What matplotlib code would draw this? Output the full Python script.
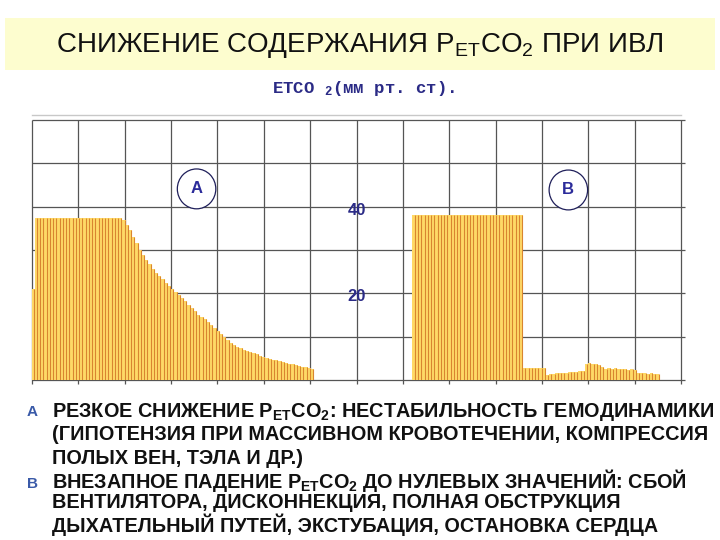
import matplotlib
matplotlib.use("Agg")
import matplotlib.pyplot as plt
from matplotlib.patches import Ellipse, Rectangle
import numpy as np

# ---------------- data ----------------
# segment A: gradual decline of ETCO2 (mm Hg), one value per breath
a_values = [21.0] + [37.3] * 27 + [
    37.0, 35.8, 34.5, 33.0, 31.5, 30.0, 28.8, 27.8, 26.8, 25.6,
    24.8, 24.0, 23.2, 22.4, 21.7, 21.0, 20.3, 19.7, 19.0, 18.2,
    17.4, 16.6, 15.9, 15.1, 14.6, 14.0, 13.3, 12.6, 12.0, 11.3,
    10.6, 9.9, 9.2, 8.6, 8.0, 7.6, 7.3, 7.0, 6.7, 6.4,
    6.2, 5.9, 5.6, 5.3, 5.1, 4.9, 4.7, 4.5, 4.3, 4.2,
    4.0, 3.8, 3.6, 3.4, 3.2, 3.1, 2.9, 2.8, 2.6]
# segment B: sudden drop to near zero
b_plateau = [38.0] * 34
b_tail = [2.8, 2.8, 2.7, 2.8, 2.7, 2.8, 2.7,
          1.2, 1.3, 1.4, 1.5, 1.5, 1.6, 1.7, 1.8, 1.8, 1.9, 2.0, 2.1,
          3.6, 4.0, 3.8, 3.7, 3.5,
          2.9, 2.6, 2.8, 2.5, 2.7, 2.6, 2.5, 2.6, 2.4, 2.5, 2.3,
          1.6, 1.5, 1.6, 1.4, 1.5, 1.4, 1.3]
b_values = b_plateau + b_tail

y_tick_labels = ["20", "40"]
y_tick_values = [20, 40]

# ---------------- layout ----------------
W, H = 720, 540
fig = plt.figure(figsize=(7.2, 5.4), dpi=100)
fig.patch.set_facecolor("white")

def fx(px):
    return px / W

def fy(py):
    return 1 - py / H

# title band
fig.patches.append(Rectangle((fx(5), fy(70)), fx(710), 52 / H, transform=fig.transFigure,
                             facecolor="#FDFDCF", edgecolor="none", zorder=0))

SANS = ["Liberation Sans", "DejaVu Sans"]
fig.text(fx(360), fy(45), r"СНИЖЕНИЕ СОДЕРЖАНИЯ P$\mathregular{_{ET}}$CO$\mathregular{_2}$ ПРИ ИВЛ",
         ha="center", va="center", fontsize=20, family=SANS, color="#111111")
fig.text(fx(364), fy(88), r"ETCO $\mathregular{_2}$(мм рт. ст).",
         ha="center", va="center", fontsize=12.5, family=["Liberation Mono", "DejaVu Sans Mono"],
         fontweight="bold", color="#2B2B86")

ax = fig.add_axes([fx(32), fy(380), fx(681 - 32), 265 / H])
ax.set_xlim(0, 14)
ax.set_ylim(0, 61.15)
for s in ax.spines.values():
    s.set_visible(False)
ax.set_xticks([])
ax.set_yticks([])
ax.patch.set_alpha(0)

grid_c = "#555555"
ax.vlines(np.arange(0, 15), -0.9, 60, colors=grid_c, lw=0.9, zorder=1, clip_on=False)
ax.hlines(np.arange(0, 61, 10), 0, 14.08, colors=grid_c, lw=0.9, zorder=1, clip_on=False)
ax.axhline(61.1, color="#C8C8C8", lw=1.0, zorder=1, clip_on=False)

step = 0.0701
xa = 0.02 + step * np.arange(len(a_values))
xb = 8.24 + step * np.arange(len(b_values))
yellow = "#FFD966"
orange = "#D98530"
for xs, vs in ((xa, a_values), (xb, b_values)):
    ax.bar(xs, vs, width=step, color=yellow, edgecolor="none", zorder=2)
    ax.vlines(xs + step * 0.25, 0, vs, colors=orange, lw=0.8, zorder=3)

# y labels in the middle of the chart
for v, lab in zip(y_tick_values, y_tick_labels):
    ax.text(7.0, v - 0.8, lab, ha="center", va="center", fontsize=12, fontweight="bold",
            color="#2B2B86", family=SANS, zorder=5)

# circled markers
for cx, cy, lab in ((3.55, 44.1, "А"), (11.57, 43.85, "В")):
    ax.add_patch(Ellipse((cx, cy), 0.83, 9.2, facecolor="white", edgecolor="#1F1F5A",
                         lw=0.9, zorder=4))
    ax.text(cx, cy, lab, ha="center", va="center", fontsize=12, fontweight="bold",
            color="#2B2B9A", family=SANS, zorder=5)

# explanatory text
lines = [
    (412, r"РЕЗКОЕ СНИЖЕНИЕ P$\mathregular{_{ET}}$CO$\mathregular{_2}$: НЕСТАБИЛЬНОСТЬ ГЕМОДИНАМИКИ"),
    (435, "(ГИПОТЕНЗИЯ ПРИ МАССИВНОМ КРОВОТЕЧЕНИИ, КОМПРЕССИЯ"),
    (458, "ПОЛЫХ ВЕН, ТЭЛА И ДР.)"),
    (480, r"ВНЕЗАПНОЕ ПАДЕНИЕ P$\mathregular{_{ET}}$CO$\mathregular{_2}$ ДО НУЛЕВЫХ ЗНАЧЕНИЙ: СБОЙ"),
    (503, "ВЕНТИЛЯТОРА, ДИСКОННЕКЦИЯ, ПОЛНАЯ ОБСТРУКЦИЯ"),
    (525, "ДЫХАТЕЛЬНЫЙ ПУТЕЙ, ЭКСТУБАЦИЯ, ОСТАНОВКА СЕРДЦА"),
]
for py, t in lines:
    fig.text(fx(52), fy(py), t, ha="left", va="center", fontsize=14.3, fontweight="bold",
             family=SANS, color="#111111")
for py, lab in ((412, "А"), (484, "В")):
    fig.text(fx(32), fy(py), lab, ha="center", va="center", fontsize=11, fontweight="bold",
             family=SANS, color="#3A5AA8")

fig.savefig("out.png", dpi=100)
